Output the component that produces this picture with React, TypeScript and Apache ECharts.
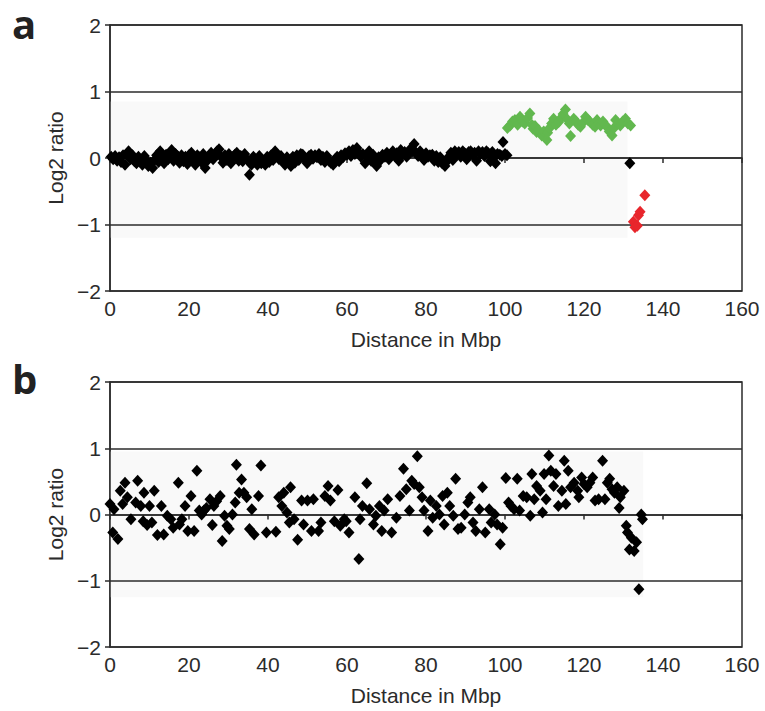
import React, { useEffect, useRef } from "react";
import * as echarts from "echarts";

const xTicks = [0, 20, 40, 60, 80, 100, 120, 140, 160];
const yTicks = [-2, -1, 0, 1, 2];

// Panel a: normal (black), gain (green), loss (red)
const aBlack: number[][] = [
  [0.3,0.02],[0.8,-0.02],[1.3,0.03],[1.8,-0.04],[2.3,0.01],[2.8,-0.06],[3.3,0.04],[3.8,-0.1],[4.3,0.05],[4.7,0.1],
  [5.2,-0.02],[5.7,0.04],[6.2,-0.05],[6.7,-0.08],[7.2,0.02],[7.7,-0.06],[8.2,-0.1],[8.7,0.03],[9.2,-0.04],[9.7,-0.12],
  [10.2,-0.07],[10.8,-0.15],[11.3,-0.03],[11.8,0.04],[12.3,-0.06],[12.7,0.1],[13.2,0.02],[13.7,-0.08],[14.2,0.05],[14.7,-0.02],
  [15.2,0.07],[15.6,0.12],[16.1,-0.04],[16.6,0.06],[17.1,0.03],[17.6,-0.07],[18.1,0.04],[18.6,-0.05],[19.1,0.02],[19.6,-0.09],
  [20.1,0.05],[20.6,0.08],[21.1,-0.03],[21.6,-0.1],[22.1,0.04],[22.6,0.01],[23.1,-0.06],[23.6,0.06],[24.1,-0.15],[24.6,-0.04],
  [25.1,0.03],[25.6,0.08],[26.1,-0.02],[26.6,0.05],[27.1,0.1],[27.6,0.13],[28.1,0.02],[28.6,-0.07],[29.1,0.04],[29.6,-0.03],
  [30.1,0.06],[30.6,-0.08],[31.1,0.01],[31.6,0.05],[32.1,0.08],[32.6,-0.04],[33.1,0.03],[33.6,-0.05],[34.1,0.06],[34.6,-0.02],
  [35.3,-0.25],[35.8,-0.1],[36.3,0.02],[36.8,-0.06],[37.3,-0.1],[37.8,0.03],[38.3,-0.08],[38.8,-0.04],[39.3,-0.1],[39.8,0.02],
  [40.3,-0.06],[40.8,0.04],[41.3,-0.03],[41.8,0.1],[42.3,0.05],[42.8,-0.02],[43.3,0.03],[43.8,-0.05],[44.3,-0.1],[44.8,0.01],
  [45.3,-0.04],[45.8,-0.12],[46.3,0.02],[46.8,-0.07],[47.3,0.04],[47.8,-0.03],[48.3,0.06],[48.8,0.05],[49.3,-0.02],[49.9,-0.08],
  [50.4,0.03],[50.9,0.05],[51.4,-0.01],[51.9,0.04],[52.4,0.01],[52.9,0.06],[53.4,-0.03],[53.9,0.02],[54.4,-0.06],[54.9,0.03],
  [55.4,-0.04],[55.9,-0.07],[56.5,-0.1],[57,-0.02],[57.5,0.02],[58,-0.05],[58.5,0.04],[59,0.01],[59.5,0.07],[60,0.05],
  [60.5,0.1],[61,0.03],[61.5,0.12],[62,0.06],[62.5,0.15],[63,0.08],[63.5,0.02],[64,0.06],[64.6,-0.08],[65.1,0.03],
  [65.6,0.1],[66.1,-0.04],[66.6,0.05],[67.1,-0.07],[67.5,-0.12],[68,0.01],[68.5,-0.03],[69,0.05],[69.6,0.02],[70.1,0.08],
  [70.6,-0.02],[71.1,0.06],[71.6,0.1],[72.1,0.03],[72.6,0.07],[73.1,-0.04],[73.6,0.12],[74.1,0.05],[74.6,0.09],[75.1,0.02],
  [75.6,0.06],[76.1,0.14],[76.6,0.1],[77,0.21],[77.5,0.08],[78,0.03],[78.5,0.1],[79,0.05],[79.5,-0.03],[80,0.07],
  [80.5,0.02],[81,0.04],[81.6,0.05],[82.1,-0.04],[82.6,0.03],[83.1,-0.06],[83.6,0.01],[84.1,-0.08],[84.8,-0.12],[85.3,-0.05],
  [85.8,0.02],[86.3,0.08],[86.8,-0.03],[87.3,0.1],[87.8,0.05],[88.3,0.09],[88.8,0.02],[89.3,0.1],[89.8,0.07],[90.3,-0.02],
  [90.8,0.09],[91.3,0.1],[91.8,0.05],[92.3,0.08],[92.8,-0.04],[93.3,0.1],[93.8,0.06],[94.3,0.09],[94.8,0.03],[95.3,0.1],
  [95.8,0.07],[96.3,-0.05],[96.8,0.09],[97.3,0.04],[97.6,-0.08],[98.1,0.06],[98.7,0.05],[99.2,0.03],[99.5,0.24],[100,0.06],
  [100.5,0.04],[131.6,-0.08]
];

const aGreen: number[][] = [
  [100.6,0.45],[101.3,0.49],[101.9,0.55],[102.5,0.57],[103.2,0.5],[103.8,0.62],[104.4,0.55],[105,0.52],[105.7,0.6],[106.3,0.67],
  [106.8,0.5],[107.1,0.44],[107.6,0.48],[108,0.39],[108.5,0.42],[109.3,0.34],[109.8,0.4],[110.6,0.27],[110.8,0.38],[111.3,0.45],
  [111.8,0.52],[112.3,0.59],[112.9,0.5],[113.6,0.54],[114.2,0.6],[114.7,0.66],[115.3,0.73],[115.8,0.58],[116.3,0.52],[116.6,0.33],
  [117.4,0.59],[118,0.55],[118.5,0.5],[119.1,0.47],[119.7,0.53],[120.4,0.62],[121,0.57],[121.6,0.54],[122.2,0.5],[122.8,0.47],
  [123.3,0.57],[123.8,0.52],[124.2,0.49],[124.8,0.55],[125.3,0.5],[125.8,0.47],[126.4,0.4],[127.1,0.34],[127.6,0.45],[128,0.57],
  [128.6,0.52],[129.2,0.49],[129.8,0.55],[130.5,0.59],[131.1,0.52],[131.8,0.49]
];

const aRed: number[][] = [
  [132.5,-0.96],[132.9,-1.04],[133.5,-1.02],[133.8,-0.86],[134.2,-0.81],[135.4,-0.56]
];

// Panel b
const bBlack: number[][] = [
  [0,0.16],[0.7,-0.27],[1,0.08],[2,-0.37],[2.6,0.36],[3.2,0.16],[3.8,0.48],[4.4,0.26],[5.3,-0.07],[6.5,0.18],
  [7,0.51],[7.8,0.13],[8.4,-0.1],[8.6,0.33],[9.4,-0.16],[10,0.13],[10.6,-0.12],[11.2,0.36],[12,-0.31],[13,0.13],
  [13.6,-0.3],[14.5,-0.02],[15.4,-0.07],[16,-0.2],[17.3,0.48],[17.6,-0.15],[18.2,-0.07],[19,0.13],[19.7,-0.25],[20.5,0.28],
  [21.3,-0.25],[22,0.66],[22.6,0.06],[23.2,0],[23.8,0.06],[24.4,0.1],[25.3,0.23],[25.9,-0.16],[26.3,0.13],[27,0.2],
  [27.9,0.28],[28.4,-0.4],[29,-0.02],[29.6,-0.17],[30.2,-0.22],[31,0],[31.7,0.18],[32,0.75],[32.7,0.33],[33.3,0.53],
  [33.9,0.33],[34.6,0.26],[35.3,-0.22],[35.9,0.08],[36.5,-0.3],[37.6,0.28],[38.2,0.74],[39.6,-0.27],[42,-0.26],[42.7,0.26],
  [43.5,0.13],[44,0.33],[44.8,0.03],[45.4,-0.12],[45.7,0.41],[46.6,-0.07],[47.5,-0.38],[48.5,0.21],[49,-0.15],[50,0.21],
  [51,-0.25],[51.5,0.23],[52.8,-0.25],[53.4,-0.12],[54.4,0.28],[55.2,0.43],[55.8,0.21],[56.8,-0.1],[57.7,0.37],[58.3,-0.17],
  [59.3,-0.07],[59.8,-0.1],[60.5,-0.27],[62,0.26],[63,-0.67],[63.3,-0.07],[63.9,0.13],[65,0.47],[65.7,0.08],[66.7,-0.15],
  [67.3,-0.02],[68.2,0.13],[68.8,-0.25],[69.4,0.06],[70.3,0.23],[71.3,-0.27],[72.5,-0.05],[73.4,0.28],[74.3,0.69],[75,0.38],
  [75.8,0.06],[76.4,0.51],[77,0.46],[77.8,0.88],[78.3,0.41],[79,0.26],[79.5,0.06],[80.5,-0.25],[81.1,0.21],[81.7,-0.05],
  [82.6,0.13],[83.4,0],[84.2,0.28],[84.6,-0.15],[85.4,0.33],[86,0.13],[86.9,-0.02],[87.5,0.54],[88.1,-0.22],[88.9,-0.2],
  [89.8,0],[90.6,0.18],[91.2,0.26],[91.9,-0.12],[92.6,-0.25],[93.5,0.08],[94.3,0.41],[95,-0.27],[96,0.08],[96.5,-0.12],
  [97.4,0],[98,-0.15],[98.8,-0.45],[99.4,-0.2],[100.2,0.55],[100.9,0.18],[101.5,0.13],[102.3,0.08],[103.1,0.54],[103.7,0.06],
  [104.6,0.28],[105.5,0.26],[106.4,-0.02],[106.8,0.61],[107.4,0.23],[108,0.43],[108.9,0.36],[109.5,0.03],[109.9,0.61],[110.4,0.23],
  [111.1,0.89],[111.6,0.66],[112.3,0.43],[112.9,0.61],[113.5,0.13],[114.4,0.36],[115,0.81],[115.4,0.16],[116,0.66],[116.6,0.41],
  [117.5,0.48],[118.4,0.36],[118.7,0.26],[119.4,0.56],[120,0.46],[120.8,0.41],[121.5,0.48],[122.2,0.56],[122.8,0.21],[123.7,0.23],
  [124.7,0.81],[125.3,0.23],[125.9,0.48],[126.5,0.54],[127.1,0.38],[127.7,0.33],[128.4,0.41],[128.9,0.1],[129.2,0.26],[130.1,0.36],
  [130.7,-0.17],[131,-0.27],[131.5,-0.53],[132,-0.35],[132.7,-0.55],[133.3,-0.42],[133.9,-1.13],[134.5,0],[134.8,-0.07]
];

const FONT = "'Liberation Sans Narrow', 'Arial Narrow', 'Liberation Sans', Arial, sans-serif";
const DARK = "#2b2b2b";

function minusFmt(v: number) {
  return v < 0 ? "\u2212" + Math.abs(v) : String(v);
}

export default function App() {
  const ref = useRef<HTMLDivElement>(null);
  useEffect(() => {
    document.body.style.margin = "0";
    const chart = echarts.init(ref.current!, undefined, { renderer: "svg" });
    const grids = [
      { left: 110, top: 25, width: 632, height: 266 },
      { left: 110, top: 382, width: 632, height: 265 },
    ];
    const xAxis = grids.map((_, i) => ({
      type: "value",
      gridIndex: i,
      z: 2,
      min: xTicks[0],
      max: xTicks[xTicks.length - 1],
      interval: 20,
      name: "Distance in Mbp",
      nameLocation: "middle",
      nameGap: 38,
      nameTextStyle: { fontFamily: FONT, fontSize: 21, color: DARK },
      axisLine: { show: true, lineStyle: { color: DARK, width: 1.5 } },
      axisTick: { show: true, length: 5, inside: false, lineStyle: { color: DARK, width: 1.5 } },
      axisLabel: { fontFamily: FONT, fontSize: 21, color: DARK, margin: 7 },
      splitLine: { show: false },
    }));
    const yAxis = grids.map((_, i) => ({
      type: "value",
      gridIndex: i,
      z: 2,
      min: yTicks[0],
      max: yTicks[yTicks.length - 1],
      interval: 1,
      name: "Log2 ratio",
      nameLocation: "middle",
      nameGap: 43,
      nameTextStyle: { fontFamily: FONT, fontSize: 21, color: DARK },
      axisLine: { show: true, lineStyle: { color: DARK, width: 1.5 } },
      axisTick: { show: true, length: 5, inside: false, lineStyle: { color: DARK, width: 1.5 } },
      axisLabel: { fontFamily: FONT, fontSize: 21, color: DARK, margin: 9, formatter: minusFmt },
      splitLine: { show: true, lineStyle: { color: DARK, width: 1.5 } },
    }));
    const bgArea = (x1: number, y1: number, x2: number, y2: number) => ({
      silent: true,
      z: 1,
      itemStyle: { color: "#f9f9f9" },
      data: [[{ xAxis: x1, yAxis: y1 }, { xAxis: x2, yAxis: y2 }]],
    });
    const scat = (data: number[][], color: string, gi: number, extra: any = {}) => ({
      type: "scatter",
      xAxisIndex: gi,
      yAxisIndex: gi,
      symbol: "diamond",
      symbolSize: [11, 12],
      itemStyle: { color, opacity: 1 },
      data,
      z: 3,
      ...extra,
    });
    chart.setOption({
      animation: false,
      backgroundColor: "#ffffff",
      grid: grids.map((g) => ({ ...g, show: true, z: 0, borderColor: DARK, borderWidth: 1.5, backgroundColor: "transparent" })),
      xAxis,
      yAxis,
      series: [
        scat(aBlack, "#000000", 0, { markArea: bgArea(0, -1.2, 131, 0.85) }),
        scat(aGreen, "#62b84f", 0),
        scat(aRed, "#e8262c", 0),
        scat(bBlack, "#000000", 1, { markArea: bgArea(0, -1.25, 135, 0.95) }),
      ],
      graphic: [
        { type: "text", left: 12, top: 3, style: { text: "a", fontFamily: "'Open Sans', 'Liberation Sans', sans-serif", fontWeight: "bold", fontSize: 40, fill: "#222" } },
        { type: "text", left: 12, top: 358, style: { text: "b", fontFamily: "'Open Sans', 'Liberation Sans', sans-serif", fontWeight: "bold", fontSize: 40, fill: "#222" } },
      ],
    });
    return () => chart.dispose();
  }, []);
  return <div ref={ref} style={{ width: 765, height: 711 }} />;
}
